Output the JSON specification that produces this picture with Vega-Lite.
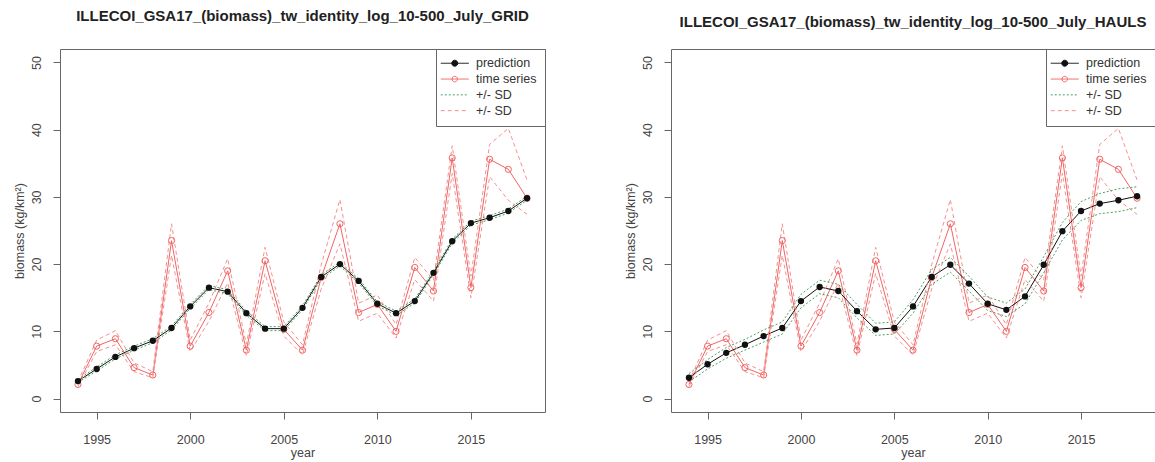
{
"$schema": "https://vega.github.io/schema/vega-lite/v6.json",
"padding": {"left": 12, "top": 8, "right": 0, "bottom": 0},
"bounds": "flush",
"spacing": 126,
"resolve": {"scale": {"x": "independent", "y": "independent", "color": "independent"}, "axis": {"x": "independent", "y": "independent"}, "legend": {"color": "independent"}},
"datasets": {
"grid": [
{"year":1994,"p":2.6,"plo":2.4,"phi":2.8,"t":2.1,"tlo":1.8,"thi":2.5},
{"year":1995,"p":4.4,"plo":4.1,"phi":4.7,"t":7.8,"tlo":7.0,"thi":8.7},
{"year":1996,"p":6.2,"plo":5.9,"phi":6.5,"t":8.9,"tlo":8.0,"thi":10.1},
{"year":1997,"p":7.5,"plo":7.2,"phi":7.8,"t":4.6,"tlo":4.0,"thi":5.3},
{"year":1998,"p":8.6,"plo":8.3,"phi":8.9,"t":3.5,"tlo":3.1,"thi":4.0},
{"year":1999,"p":10.5,"plo":10.2,"phi":10.8,"t":23.5,"tlo":21.3,"thi":26.0},
{"year":2000,"p":13.7,"plo":13.4,"phi":14.0,"t":7.8,"tlo":7.0,"thi":8.7},
{"year":2001,"p":16.5,"plo":16.2,"phi":16.8,"t":12.8,"tlo":11.5,"thi":14.2},
{"year":2002,"p":15.9,"plo":15.6,"phi":16.2,"t":19.0,"tlo":17.2,"thi":20.8},
{"year":2003,"p":12.7,"plo":12.4,"phi":13.0,"t":7.2,"tlo":6.4,"thi":8.1},
{"year":2004,"p":10.4,"plo":10.1,"phi":10.7,"t":20.5,"tlo":18.6,"thi":22.5},
{"year":2005,"p":10.4,"plo":10.1,"phi":10.7,"t":10.3,"tlo":9.3,"thi":11.4},
{"year":2006,"p":13.5,"plo":13.2,"phi":13.8,"t":7.2,"tlo":6.5,"thi":8.0},
{"year":2007,"p":18.1,"plo":17.8,"phi":18.4,"t":18.0,"tlo":16.3,"thi":19.9},
{"year":2008,"p":20.0,"plo":19.7,"phi":20.3,"t":26.0,"tlo":23.0,"thi":29.6},
{"year":2009,"p":17.5,"plo":17.2,"phi":17.8,"t":12.8,"tlo":11.5,"thi":14.2},
{"year":2010,"p":14.1,"plo":13.8,"phi":14.4,"t":14.0,"tlo":12.7,"thi":15.4},
{"year":2011,"p":12.7,"plo":12.4,"phi":13.0,"t":10.0,"tlo":9.0,"thi":11.0},
{"year":2012,"p":14.5,"plo":14.2,"phi":14.8,"t":19.5,"tlo":17.7,"thi":21.0},
{"year":2013,"p":18.7,"plo":18.4,"phi":19.0,"t":16.0,"tlo":14.5,"thi":17.6},
{"year":2014,"p":23.4,"plo":23.1,"phi":23.7,"t":35.8,"tlo":33.5,"thi":37.6},
{"year":2015,"p":26.1,"plo":25.8,"phi":26.4,"t":16.5,"tlo":15.0,"thi":18.2},
{"year":2016,"p":26.9,"plo":26.6,"phi":27.2,"t":35.6,"tlo":33.0,"thi":37.8},
{"year":2017,"p":27.9,"plo":27.6,"phi":28.2,"t":34.1,"tlo":29.5,"thi":40.2},
{"year":2018,"p":29.8,"plo":29.5,"phi":30.1,"t":29.8,"tlo":27.4,"thi":32.5}
],
"hauls": [
{"year":1994,"p":3.1,"plo":2.5,"phi":3.7,"t":2.1,"tlo":1.8,"thi":2.5},
{"year":1995,"p":5.1,"plo":4.4,"phi":5.8,"t":7.8,"tlo":7.0,"thi":8.7},
{"year":1996,"p":6.8,"plo":6.0,"phi":7.6,"t":8.9,"tlo":8.0,"thi":10.1},
{"year":1997,"p":8.0,"plo":7.2,"phi":8.8,"t":4.6,"tlo":4.0,"thi":5.3},
{"year":1998,"p":9.3,"plo":8.4,"phi":10.2,"t":3.5,"tlo":3.1,"thi":4.0},
{"year":1999,"p":10.5,"plo":9.6,"phi":11.4,"t":23.5,"tlo":21.3,"thi":26.0},
{"year":2000,"p":14.5,"plo":13.5,"phi":15.5,"t":7.8,"tlo":7.0,"thi":8.7},
{"year":2001,"p":16.6,"plo":15.6,"phi":17.6,"t":12.8,"tlo":11.5,"thi":14.2},
{"year":2002,"p":16.0,"plo":15.0,"phi":17.0,"t":19.0,"tlo":17.2,"thi":20.8},
{"year":2003,"p":13.0,"plo":12.0,"phi":14.0,"t":7.2,"tlo":6.4,"thi":8.1},
{"year":2004,"p":10.3,"plo":9.4,"phi":11.2,"t":20.5,"tlo":18.6,"thi":22.5},
{"year":2005,"p":10.5,"plo":9.6,"phi":11.4,"t":10.3,"tlo":9.3,"thi":11.4},
{"year":2006,"p":13.7,"plo":12.7,"phi":14.7,"t":7.2,"tlo":6.5,"thi":8.0},
{"year":2007,"p":18.1,"plo":17.0,"phi":19.2,"t":18.0,"tlo":16.3,"thi":19.9},
{"year":2008,"p":19.9,"plo":18.8,"phi":21.0,"t":26.0,"tlo":23.0,"thi":29.6},
{"year":2009,"p":17.1,"plo":16.0,"phi":18.2,"t":12.8,"tlo":11.5,"thi":14.2},
{"year":2010,"p":14.1,"plo":13.1,"phi":15.1,"t":14.0,"tlo":12.7,"thi":15.4},
{"year":2011,"p":13.2,"plo":12.2,"phi":14.2,"t":10.0,"tlo":9.0,"thi":11.0},
{"year":2012,"p":15.2,"plo":14.1,"phi":16.3,"t":19.5,"tlo":17.7,"thi":21.0},
{"year":2013,"p":19.9,"plo":18.7,"phi":21.1,"t":16.0,"tlo":14.5,"thi":17.6},
{"year":2014,"p":24.9,"plo":23.6,"phi":26.2,"t":35.8,"tlo":33.5,"thi":37.6},
{"year":2015,"p":27.9,"plo":26.5,"phi":29.3,"t":16.5,"tlo":15.0,"thi":18.2},
{"year":2016,"p":29.0,"plo":27.5,"phi":30.5,"t":35.6,"tlo":33.0,"thi":37.8},
{"year":2017,"p":29.5,"plo":27.8,"phi":31.2,"t":34.1,"tlo":29.5,"thi":40.2},
{"year":2018,"p":30.1,"plo":28.4,"phi":31.5,"t":29.8,"tlo":27.4,"thi":32.5}
]
},
"config": {
  "font": "Liberation Sans",
  "view": {"stroke": "#666666", "strokeWidth": 1},
  "axis": {"grid": false, "domain": false, "tickColor": "#666666", "tickSize": 7, "tickWidth": 1, "labelFont": "Liberation Sans", "labelFontSize": 12.5, "labelColor": "#444444", "titleFont": "Liberation Sans", "titleFontSize": 12.5, "titleFontWeight": "normal", "titleColor": "#444444", "labelFlush": false, "labelOverlap": false},
  "axisX": {"labelBaseline": "middle", "labelPadding": 20.5, "titleY": 40.5, "titleBaseline": "middle"},
  "axisY": {"labelAngle": -90, "labelAlign": "center", "labelBaseline": "middle", "labelPadding": 17, "titleX": -41, "titleBaseline": "middle", "titleAlign": "center"},
  "title": {"font": "Liberation Sans", "fontSize": 15, "fontWeight": "bold", "color": "#222222", "anchor": "middle", "frame": "group"}
},
"hconcat": [
{
  "data": {"name": "grid"},
  "width": 485, "height": 363,
  "title": {"text": "ILLECOI_GSA17_(biomass)_tw_identity_log_10-500_July_GRID", "offset": 25},
  "encoding": {"x": {"field": "year", "type": "quantitative", "title": "year", "scale": {"domain": [1993.04, 2018.96], "nice": false, "zero": false}, "axis": {"values": [1995, 2000, 2005, 2010, 2015], "format": "d"}}},
  "layer": [
    {"mark": {"type": "line", "strokeWidth": 1},
     "encoding": {
       "y": {"field": "t", "type": "quantitative", "title": "biomass (kg/km²)", "scale": {"domain": [-2, 52], "nice": false, "zero": false}, "axis": {"values": [0, 10, 20, 30, 40, 50]}},
       "color": {"datum": "time series", "type": "nominal",
         "scale": {"domain": ["prediction", "time series", "pred_sd", "ts_sd"], "range": ["#111111", "#f26464", "#4aa060", "#f59090"]},
         "legend": {"orient": "top-right", "offset": 0, "padding": 8, "strokeColor": "#666666", "fillColor": "#ffffff", "title": null, "symbolSize": 100, "symbolStrokeWidth": 1, "labelOffset": 19.5, "rowPadding": 2.8, "labelFontSize": 12.5, "labelFont": "Liberation Sans", "labelColor": "#333333",
           "labelExpr": "datum.value == 'pred_sd' || datum.value == 'ts_sd' ? '+/- SD' : datum.value",
           "encode": {"symbols": {"update": {
             "shape": {"signal": "datum.value == 'prediction' ? 'M-1.9,0L3.7,0M0.3,0A0.6,0.6,0,1,1,1.5,0A0.6,0.6,0,1,1,0.3,0Z' : (datum.value == 'time series' ? 'M-1.9,0L3.7,0M0.35,0A0.55,0.55,0,1,1,1.45,0A0.55,0.55,0,1,1,0.35,0Z' : 'M-1.9,0L3.7,0')"},
             "fill": {"signal": "datum.value == 'prediction' ? '#111111' : 'transparent'"},
             "stroke": {"signal": "datum.value == 'prediction' ? '#111111' : (datum.value == 'time series' ? '#f26464' : (datum.value == 'pred_sd' ? '#4aa060' : '#f59090'))"},
             "strokeDash": {"signal": "datum.value == 'pred_sd' ? [2,2] : (datum.value == 'ts_sd' ? [4,3] : [1,0])"},
             "strokeWidth": {"value": 1},
             "opacity": {"value": 1}
           }}}
         }}
     }},
    {"mark": {"type": "line", "strokeWidth": 1},
     "encoding": {
       "y": {"field": "p", "type": "quantitative", "title": "biomass (kg/km²)", "scale": {"domain": [-2, 52], "nice": false, "zero": false}},
       "color": {"datum": "prediction", "type": "nominal"}}},
    {"transform": [{"fold": ["tlo", "thi"], "as": ["bound", "v"]}],
     "mark": {"type": "line", "strokeWidth": 1, "strokeDash": [4, 3]},
     "encoding": {
       "y": {"field": "v", "type": "quantitative", "title": "biomass (kg/km²)", "scale": {"domain": [-2, 52], "nice": false, "zero": false}},
       "detail": {"field": "bound", "type": "nominal"},
       "color": {"datum": "ts_sd", "type": "nominal"}}},
    {"transform": [{"fold": ["plo", "phi"], "as": ["bound", "v"]}],
     "mark": {"type": "line", "strokeWidth": 1, "strokeDash": [2, 2]},
     "encoding": {
       "y": {"field": "v", "type": "quantitative", "title": "biomass (kg/km²)", "scale": {"domain": [-2, 52], "nice": false, "zero": false}},
       "detail": {"field": "bound", "type": "nominal"},
       "color": {"datum": "pred_sd", "type": "nominal"}}},
    {"mark": {"type": "point", "filled": false, "color": "#f26464", "size": 38, "strokeWidth": 1, "opacity": 1},
     "encoding": {"y": {"field": "t", "type": "quantitative", "title": "biomass (kg/km²)", "scale": {"domain": [-2, 52], "nice": false, "zero": false}}}},
    {"mark": {"type": "point", "filled": true, "color": "#111111", "size": 40, "opacity": 1},
     "encoding": {"y": {"field": "p", "type": "quantitative", "title": "biomass (kg/km²)", "scale": {"domain": [-2, 52], "nice": false, "zero": false}}}}
  ]
},
{
  "data": {"name": "hauls"},
  "width": 484, "height": 363,
  "title": {"text": "ILLECOI_GSA17_(biomass)_tw_identity_log_10-500_July_HAULS", "offset": 19},
  "encoding": {"x": {"field": "year", "type": "quantitative", "title": "year", "scale": {"domain": [1993.04, 2018.96], "nice": false, "zero": false}, "axis": {"values": [1995, 2000, 2005, 2010, 2015], "format": "d"}}},
  "layer": [
    {"mark": {"type": "line", "strokeWidth": 1},
     "encoding": {
       "y": {"field": "t", "type": "quantitative", "title": "biomass (kg/km²)", "scale": {"domain": [-2, 52], "nice": false, "zero": false}, "axis": {"values": [0, 10, 20, 30, 40, 50]}},
       "color": {"datum": "time series", "type": "nominal",
         "scale": {"domain": ["prediction", "time series", "pred_sd", "ts_sd"], "range": ["#111111", "#f26464", "#4aa060", "#f59090"]},
         "legend": {"orient": "top-right", "offset": 0, "padding": 8, "strokeColor": "#666666", "fillColor": "#ffffff", "title": null, "symbolSize": 100, "symbolStrokeWidth": 1, "labelOffset": 19.5, "rowPadding": 2.8, "labelFontSize": 12.5, "labelFont": "Liberation Sans", "labelColor": "#333333",
           "labelExpr": "datum.value == 'pred_sd' || datum.value == 'ts_sd' ? '+/- SD' : datum.value",
           "encode": {"symbols": {"update": {
             "shape": {"signal": "datum.value == 'prediction' ? 'M-1.9,0L3.7,0M0.3,0A0.6,0.6,0,1,1,1.5,0A0.6,0.6,0,1,1,0.3,0Z' : (datum.value == 'time series' ? 'M-1.9,0L3.7,0M0.35,0A0.55,0.55,0,1,1,1.45,0A0.55,0.55,0,1,1,0.35,0Z' : 'M-1.9,0L3.7,0')"},
             "fill": {"signal": "datum.value == 'prediction' ? '#111111' : 'transparent'"},
             "stroke": {"signal": "datum.value == 'prediction' ? '#111111' : (datum.value == 'time series' ? '#f26464' : (datum.value == 'pred_sd' ? '#4aa060' : '#f59090'))"},
             "strokeDash": {"signal": "datum.value == 'pred_sd' ? [2,2] : (datum.value == 'ts_sd' ? [4,3] : [1,0])"},
             "strokeWidth": {"value": 1},
             "opacity": {"value": 1}
           }}}
         }}
     }},
    {"mark": {"type": "line", "strokeWidth": 1},
     "encoding": {
       "y": {"field": "p", "type": "quantitative", "title": "biomass (kg/km²)", "scale": {"domain": [-2, 52], "nice": false, "zero": false}},
       "color": {"datum": "prediction", "type": "nominal"}}},
    {"transform": [{"fold": ["tlo", "thi"], "as": ["bound", "v"]}],
     "mark": {"type": "line", "strokeWidth": 1, "strokeDash": [4, 3]},
     "encoding": {
       "y": {"field": "v", "type": "quantitative", "title": "biomass (kg/km²)", "scale": {"domain": [-2, 52], "nice": false, "zero": false}},
       "detail": {"field": "bound", "type": "nominal"},
       "color": {"datum": "ts_sd", "type": "nominal"}}},
    {"transform": [{"fold": ["plo", "phi"], "as": ["bound", "v"]}],
     "mark": {"type": "line", "strokeWidth": 1, "strokeDash": [2, 2]},
     "encoding": {
       "y": {"field": "v", "type": "quantitative", "title": "biomass (kg/km²)", "scale": {"domain": [-2, 52], "nice": false, "zero": false}},
       "detail": {"field": "bound", "type": "nominal"},
       "color": {"datum": "pred_sd", "type": "nominal"}}},
    {"mark": {"type": "point", "filled": false, "color": "#f26464", "size": 38, "strokeWidth": 1, "opacity": 1},
     "encoding": {"y": {"field": "t", "type": "quantitative", "title": "biomass (kg/km²)", "scale": {"domain": [-2, 52], "nice": false, "zero": false}}}},
    {"mark": {"type": "point", "filled": true, "color": "#111111", "size": 40, "opacity": 1},
     "encoding": {"y": {"field": "p", "type": "quantitative", "title": "biomass (kg/km²)", "scale": {"domain": [-2, 52], "nice": false, "zero": false}}}}
  ]
}
]
}
